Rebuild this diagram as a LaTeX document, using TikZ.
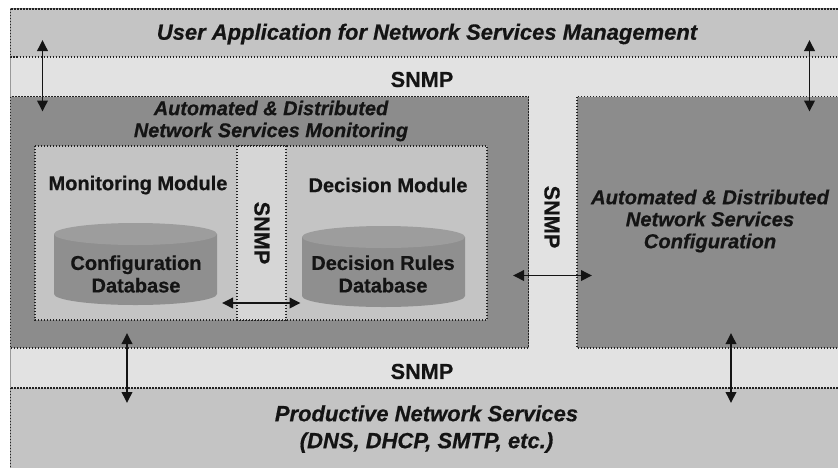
\documentclass[tikz,border=0pt]{standalone}
\usepackage{fontspec}
\setmainfont{Liberation Sans}[BoldFeatures={FakeBold=0.6},BoldItalicFeatures={FakeBold=0.6}]
\usetikzlibrary{arrows.meta}

\definecolor{bandgray}{HTML}{E2E2E2}
\definecolor{layergray}{HTML}{C4C4C4}
\definecolor{darkgray}{HTML}{8C8C8C}
\definecolor{stripgray}{HTML}{D6D6D6}
\definecolor{cylbody}{HTML}{8F8F8F}
\definecolor{cyltop}{HTML}{9D9D9D}
\definecolor{inkgray}{HTML}{141414}
\definecolor{dotgray}{HTML}{222222}

\tikzset{
  dotborder/.style={draw=dotgray, line width=1.4pt, dash pattern=on 1.4pt off 1.6pt},
  layerbox/.style={dotborder, fill=#1, inner sep=0pt, outer sep=0pt},
  title/.style={text=inkgray, font=\fontsize{22}{24}\selectfont\bfseries\itshape, align=center, inner sep=0pt},
  label/.style={text=inkgray, font=\fontsize{20}{22.5}\selectfont\bfseries, align=center, inner sep=0pt},
  proto/.style={text=inkgray, font=\fontsize{21.7}{24}\selectfont\bfseries, inner sep=0pt},
  link/.style={draw=inkgray, line width=1.9pt, {Triangle[length=11pt,width=10.5pt]}-{Triangle[length=11pt,width=10.5pt]}},
}

\newcommand{\dbcyl}[5]{% left x, right x, top centre y, bottom centre y, ry
  \fill[cylbody] (#1,#3) -- (#1,#4) arc[start angle=180,end angle=0,x radius={(#2-#1)/2},y radius=#5] -- (#2,#3) -- cycle;
  \fill[cyltop] ({(#1+#2)/2},#3) ellipse[x radius={(#2-#1)/2},y radius=#5];
}

\begin{document}
\begin{tikzpicture}[x=1pt,y=-1pt]
\useasboundingbox (0,0) rectangle (838,467);

% background band carrying the SNMP traffic
\path[fill=bandgray, draw=gray!80, line width=0.6pt] (10.5,8) rectangle (850,475);

% top and bottom layers
\path[layerbox=layergray] (10.5,9) rectangle (850,57) node[midway] (app) {};
\path[layerbox=layergray] (10.5,388) rectangle (850,475) node[midway] (prod) {};

% monitoring and configuration blocks
\path[layerbox=darkgray] (10.5,96.5) rectangle (528.5,348) node[midway] (mon) {};
\path[layerbox=darkgray] (577,96.5) rectangle (850,348) node[midway] (conf) {};

% modules inside the monitoring block
\path[layerbox=layergray] (35,146) rectangle (487,320) node[midway] (modules) {};
\path[layerbox=stripgray] (237,146) rectangle (286,320) node[midway] (strip) {};

% databases
\dbcyl{54}{217}{234}{294}{11}
\dbcyl{302}{465}{237}{296}{11}

% texts
\node[title] (apptxt) at (427,34) {User Application for Network Services Management};
\node[proto] (snmptop) at (422,79.5) {SNMP};
\node[title, font=\fontsize{19.9}{22}\selectfont\bfseries\itshape] (montxt) at (271,121) {Automated \& Distributed\\Network Services Monitoring};
\node[title, font=\fontsize{20.2}{22}\selectfont\bfseries\itshape] (conftxt) at (710,221) {Automated \& Distributed\\Network Services\\Configuration};
\node[label] (monmod) at (138,185) {Monitoring Module};
\node[label] (decmod) at (388,185) {Decision Module};
\node[proto, rotate=-90] (snmpin) at (262,233) {SNMP};
\node[proto, rotate=-90] (snmpmid) at (552,217) {SNMP};
\node[label] (cfgdb) at (136,274) {Configuration\\Database};
\node[label] (decdb) at (383,274) {Decision Rules\\Database};
\node[proto] (snmpbot) at (422,371.5) {SNMP};
\node[title, font=\fontsize{22}{27}\selectfont\bfseries\itshape] (prodtxt) at (426.5,429) {Productive Network Services\\(DNS, DHCP, SMTP, etc.)};

% arrow end points
\coordinate (tl1) at (42.5,40);   \coordinate (tl2) at (42.5,111.5);
\coordinate (tr1) at (809.5,40);  \coordinate (tr2) at (809.5,111.5);
\coordinate (bl1) at (127,333);   \coordinate (bl2) at (127,403);
\coordinate (br1) at (731,333);   \coordinate (br2) at (731,403);
\coordinate (db1) at (222,303);   \coordinate (db2) at (300.5,303);
\coordinate (mc1) at (513,275.5); \coordinate (mc2) at (592,275.5);

% SNMP exchanges
\draw[link] (tl1) -- (tl2);
\draw[link] (tr1) -- (tr2);
\draw[link] (bl1) -- (bl2);
\draw[link] (br1) -- (br2);
\draw[link] (db1) -- (db2);
\draw[link] (mc1) -- (mc2);
\end{tikzpicture}
\end{document}
